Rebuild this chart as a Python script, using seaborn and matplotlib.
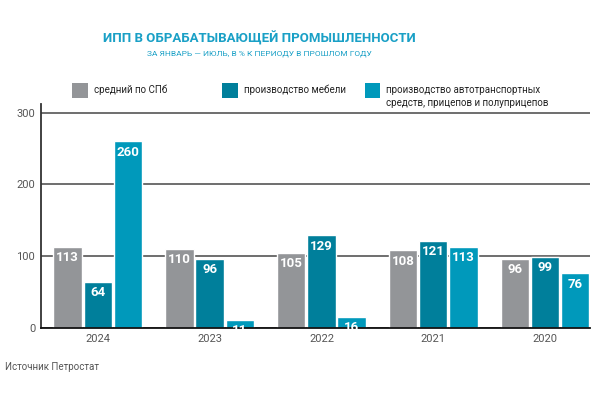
import pandas as pd
import numpy as np
import matplotlib.pyplot as plt
import seaborn as sns
from matplotlib.patches import Rectangle

sns.set_style('white')
plt.rcParams['font.family'] = ['Roboto', 'DejaVu Sans']

years = ['2024', '2023', '2022', '2021', '2020']
series = ['средний по СПб', 'производство мебели',
          'производство автотранспортных\nсредств, прицепов и полуприцепов']
avg_spb = [113, 110, 105, 108, 96]
furniture = [64, 96, 129, 121, 99]
vehicles = [260, 11, 16, 113, 76]
colors = ['#939598', '#007f9b', '#0099bb']

df = pd.DataFrame({
    'year': years * 3,
    'series': [series[0]] * 5 + [series[1]] * 5 + [series[2]] * 5,
    'value': avg_spb + furniture + vehicles,
})

fig = plt.figure(figsize=(6, 4), dpi=100)
ax = fig.add_axes([0.068, 0.18, 0.915, 0.56])

sns.barplot(data=df, x='year', y='value', hue='series', palette=colors,
            width=0.81, gap=0.06, ax=ax, legend=False, saturation=1)

for cont in ax.containers:
    for bar in cont:
        h = bar.get_height()
        ax.annotate(f'{h:.0f}', (bar.get_x() + bar.get_width() / 2, h),
                    xytext=(0, -3), textcoords='offset points',
                    ha='center', va='top', color='white',
                    fontsize=9.5, fontweight='bold')

ax.set_ylim(0, 312)
ax.set_xlim(-0.51, 4.40)
ax.set_yticks([0, 100, 200, 300])
ax.set_axisbelow(True)
ax.yaxis.grid(True, color='#555555', linewidth=1.2)
ax.xaxis.grid(False)
ax.tick_params(axis='both', length=0, labelsize=8, labelcolor='#555555', pad=4)
ax.set_xlabel('')
ax.set_ylabel('')
for s in ['top', 'right']:
    ax.spines[s].set_visible(False)
ax.spines['left'].set_color('#333333')
ax.spines['left'].set_linewidth(1.3)
ax.spines['bottom'].set_color('#111111')
ax.spines['bottom'].set_linewidth(1.3)

fig.text(0.433, 0.903, 'ИПП В ОБРАБАТЫВАЮЩЕЙ ПРОМЫШЛЕННОСТИ', ha='center', va='center',
         color='#1aa0c6', fontsize=9.5, fontweight='bold')
fig.text(0.433, 0.866, 'ЗА ЯНВАРЬ — ИЮЛЬ, В % К ПЕРИОДУ В ПРОШЛОМ ГОДУ', ha='center',
         va='center', color='#1aa0c6', fontsize=6)

# legend
leg_x = [0.12, 0.37, 0.608]
for x, c, lab in zip(leg_x, colors, series):
    fig.add_artist(Rectangle((x, 0.755), 0.026, 0.038, transform=fig.transFigure,
                             color=c, lw=0))
    fig.text(x + 0.036, 0.788, lab, ha='left', va='top', fontsize=7, color='#222222',
             linespacing=1.45)

fig.text(0.008, 0.082, 'Источник Петростат', ha='left', va='center', fontsize=7,
         color='#555555')

plt.savefig('out.png', dpi=100)
